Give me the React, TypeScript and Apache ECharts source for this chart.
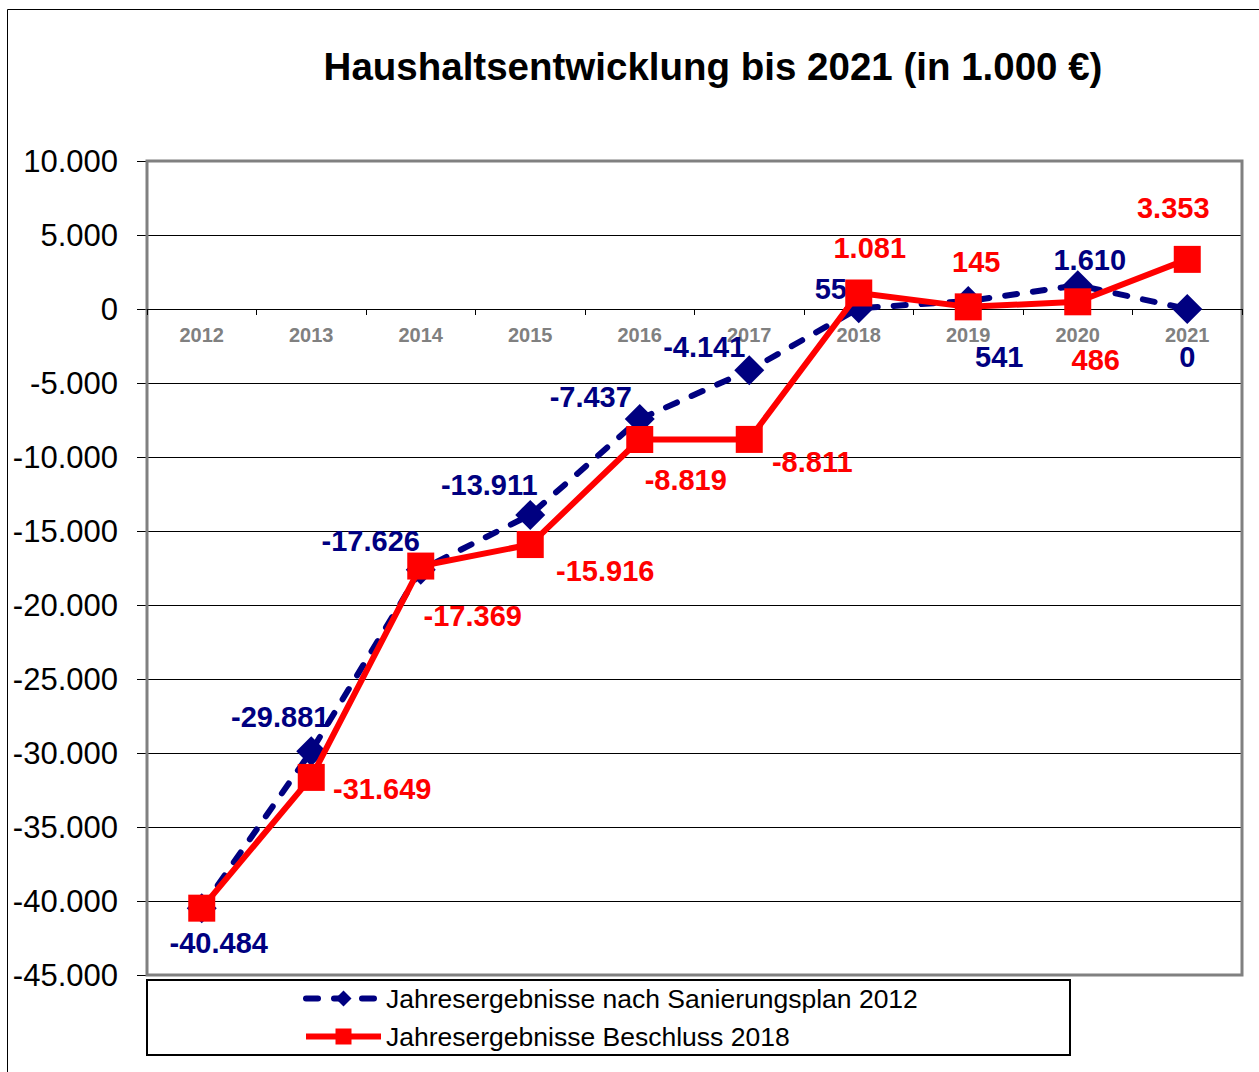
import React, { useEffect, useRef } from "react";
import * as echarts from "echarts";

const years = ["2012", "2013", "2014", "2015", "2016", "2017", "2018", "2019", "2020", "2021"];
const planName = "Jahresergebnisse nach Sanierungsplan 2012";
const decisionName = "Jahresergebnisse Beschluss 2018";
const planValues = [-40484, -29881, -17626, -13911, -7437, -4141, 55, 541, 1610, 0];
const decisionValues = [-40484, -31649, -17369, -15916, -8819, -8811, 1081, 145, 486, 3353];
const yMin = -45000;
const yMax = 10000;
const yStep = 5000;
const titleText = "Haushaltsentwicklung bis 2021 (in 1.000 €)";

// label placement (pixel offsets from each marker centre)
const planLabelOffsets: (number[] | null)[] = [
  [17, 35], [-31, -34], [-50, -29], [-41, -30], [-49, -22],
  [-45, -23], [-28, -19], [31, 56], [12, -25], [0, 48],
];
const decisionLabelOffsets: (number[] | null)[] = [
  null, [71, 12], [52, 50], [75, 26], [46, 40],
  [63, 23], [11, -45], [8, -45], [18, 58], [-14, -51],
];

const fmt = (v: number) => {
  const s = Math.abs(v).toString().replace(/\B(?=(\d{3})+(?!\d))/g, ".");
  return (v < 0 ? "-" : "") + s;
};

const BLUE = "#000080";
const RED = "#FF0000";
const FONT = "Liberation Sans, Arial, sans-serif";

function buildData(values: number[], offsets: (number[] | null)[], color: string) {
  return values.map((v, i) => {
    const off = offsets[i];
    if (!off) return { value: v, label: { show: false } };
    return {
      value: v,
      label: {
        show: true,
        position: "inside",
        offset: off,
        formatter: () => fmt(v),
        color,
        fontFamily: FONT,
        fontWeight: "bold",
        fontSize: 29,
      },
    };
  });
}

export default function App() {
  const ref = useRef<HTMLDivElement>(null);
  useEffect(() => {
    if (!ref.current) return;
    const chart = echarts.init(ref.current, undefined, { renderer: "svg" });
    const gridLeft = 147;
    const gridTop = 161;
    const gridWidth = 1095;
    const gridHeight = 814;
    // distance of the zero line from the bottom of the plot
    const zeroFromBottom = Math.round(gridHeight * (0 - yMin) / (yMax - yMin));
    chart.setOption({
      animation: false,
      backgroundColor: "#ffffff",
      title: {
        text: titleText,
        left: 713,
        top: 47,
        textAlign: "center",
        padding: 0,
        textStyle: {
          fontFamily: FONT,
          fontWeight: "bold",
          fontSize: 38.5,
          color: "#000000",
        },
      },
      grid: {
        left: gridLeft,
        top: gridTop,
        width: gridWidth,
        height: gridHeight,
        containLabel: false,
      },
      legend: {
        orient: "vertical",
        left: 303,
        top: 985,
        itemWidth: 75,
        itemHeight: 20,
        itemGap: 11,
        padding: 0,
        selectedMode: false,
        data: [planName, decisionName],
        lineStyle: { width: 6 },
        textStyle: {
          fontFamily: FONT,
          fontSize: 26.5,
          lineHeight: 26,
          color: "#000000",
        },
      },
      xAxis: {
        type: "category",
        data: years,
        boundaryGap: true,
        position: "bottom",
        offset: -zeroFromBottom,
        axisLine: { show: true, onZero: false, lineStyle: { color: "#000000", width: 1 } },
        axisTick: { show: true, length: 6, inside: false, lineStyle: { color: "#000000" } },
        axisLabel: {
          margin: 16,
          color: "#808080",
          fontFamily: FONT,
          fontWeight: "bold",
          fontSize: 20,
        },
        splitLine: { show: false },
        z: 3,
      },
      yAxis: {
        type: "value",
        min: yMin,
        max: yMax,
        interval: yStep,
        axisLine: { show: false },
        axisTick: { show: true, length: 10, lineStyle: { color: "#000000", width: 1 } },
        axisLabel: {
          margin: 29,
          color: "#000000",
          fontFamily: FONT,
          fontSize: 31,
          formatter: (v: number) => fmt(v),
        },
        splitLine: { show: true, lineStyle: { color: "#000000", width: 1 } },
      },
      graphic: [
        {
          type: "rect",
          z: 0,
          silent: true,
          shape: { x: 7.5, y: 9.5, width: 1400, height: 1200 },
          style: { fill: "none", stroke: "#000000", lineWidth: 1 },
        },
        {
          type: "rect",
          z: 1,
          silent: true,
          shape: { x: gridLeft, y: gridTop, width: gridWidth, height: gridHeight },
          style: { fill: "none", stroke: "#808080", lineWidth: 3 },
        },
        {
          type: "rect",
          z: 1,
          silent: true,
          shape: { x: 147, y: 980, width: 923, height: 75 },
          style: { fill: "none", stroke: "#000000", lineWidth: 2 },
        },
      ],
      series: [
        {
          name: planName,
          type: "line",
          data: buildData(planValues, planLabelOffsets, BLUE),
          symbol: "diamond",
          symbolSize: 30,
          itemStyle: { color: BLUE },
          lineStyle: { color: BLUE, width: 6, type: [12, 16], cap: "round" },
          z: 4,
          silent: true,
        },
        {
          name: decisionName,
          type: "line",
          data: buildData(decisionValues, decisionLabelOffsets, RED),
          symbol: "rect",
          symbolSize: 27,
          itemStyle: { color: RED },
          lineStyle: { color: RED, width: 6, type: "solid" },
          z: 5,
          silent: true,
        },
      ],
    });
    return () => chart.dispose();
  }, []);
  return (
    <div
      ref={ref}
      style={{ position: "fixed", left: 0, top: 0, width: 1259, height: 1072, background: "#fff" }}
    />
  );
}
